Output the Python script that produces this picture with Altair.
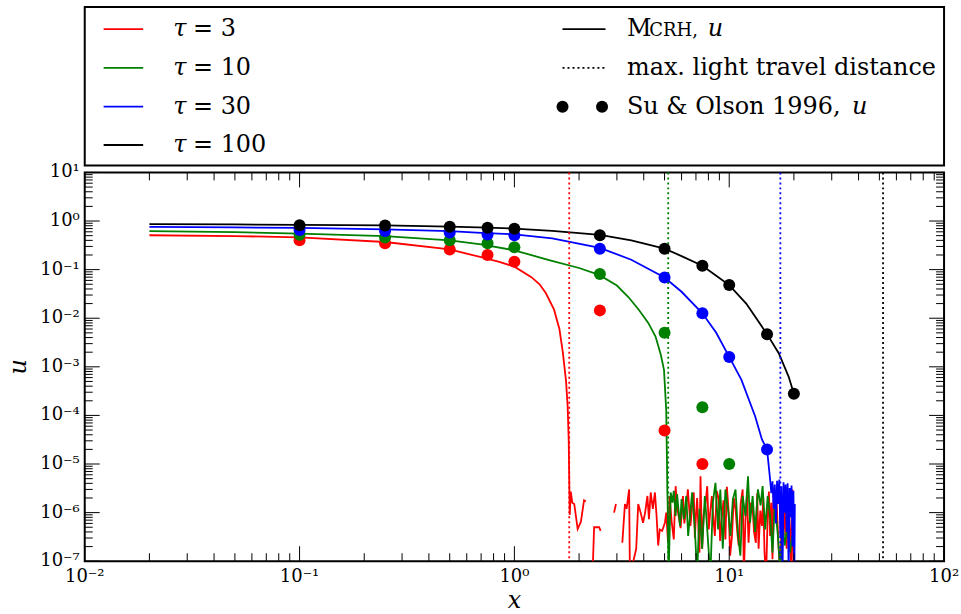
import json
import altair as alt
import pandas as pd

# ---------------- data ----------------
TAU_NAMES = ["3", "10", "30", "100"]
TAU_COLORS = ["#ff0000", "#008000", "#0000ff", "#000000"]

# MCRH simulation, tau = 3 (split where the curve has gaps)
red_x_1 = [0.02, 0.05, 0.1, 0.25, 0.5, 0.7, 0.85, 1.0, 1.2, 1.31, 1.4, 1.53, 1.62, 1.68, 1.74, 1.77,
           1.79, 1.80, 1.81, 1.83, 1.86, 1.90, 1.97, 2.04, 2.11, 2.15]
red_u_1 = [0.51, 0.49, 0.46, 0.37, 0.26, 0.18, 0.145, 0.115, 0.07, 0.05, 0.033, 0.015, 6e-3, 2e-3, 5e-4, 1.5e-4,
           3e-5, 5e-6, 9e-7, 2.7e-6, 1.6e-6, 1.5e-6, 4.6e-7, 6.5e-7, 1.8e-6, 1.7e-6]
red_x_2 = [2.31, 2.35, 2.48, 2.52]
red_u_2 = [5e-8, 5e-7, 5e-7, 4.2e-7]
red_x_3 = [2.91, 2.97]
red_u_3 = [1.0e-6, 1.5e-6]
red_x_4 = [3.18, 3.27, 3.33, 3.42, 3.45, 3.69, 3.77, 3.87, 3.97, 4.06, 4.16, 4.23, 4.31, 4.41, 4.51,
           4.59, 4.67, 4.75, 4.87, 5.02, 5.09, 5.19, 5.28, 5.39, 5.52, 5.63, 5.72, 5.94, 6.09,
           6.18, 6.27, 6.42, 6.60, 6.72, 6.84, 6.92, 7.0, 7.09, 7.17, 7.27, 7.35, 7.48, 7.6, 7.76,
           7.9, 8.03, 8.17, 8.30, 8.45, 8.57, 8.75, 8.94, 9.07, 9.2, 9.4, 9.6, 9.75, 9.95, 10.1,
           10.3, 10.5, 10.7, 10.9, 11.07, 11.3, 11.55, 11.7, 11.9, 12.1, 12.3, 12.6, 12.85, 13.05, 13.3,
           13.5, 13.7, 13.95, 14.2, 14.4, 14.6, 14.85, 15.1, 15.3, 15.5, 15.7, 15.9, 16.1, 16.3, 16.6,
           16.96, 17.3, 17.6, 17.9, 18.2, 18.5, 18.85, 19.2, 19.45, 19.7, 20.0]
red_u_4 = [2.4e-7, 1.5e-6, 1.2e-6, 3e-6, 5e-8, 1.8e-7, 1.5e-6, 1.0e-6, 6.2e-7, 1.0e-6, 2.2e-6, 7.3e-7, 2.6e-6, 1.2e-6, 2.6e-6,
           8.5e-7, 2.1e-7, 4.5e-7, 4.2e-7, 6.2e-7, 1.0e-6, 2.4e-7, 2.2e-6, 6.8e-7, 2.8e-7, 3.5e-6, 1.3e-6, 4.8e-7, 2.2e-6,
           6e-7, 1.0e-6, 3.0e-6, 5.3e-7, 1.4e-6, 2.6e-6, 3e-7, 8.5e-7, 2.0e-6, 6.2e-7, 1.5e-7, 5.6e-6, 1.8e-7, 9e-7, 1.6e-6,
           3.5e-6, 4.5e-7, 1.1e-6, 2.2e-6, 7e-7, 3.3e-7, 2.8e-6, 1.9e-6, 2.6e-7, 6.2e-7, 1.8e-6, 2.8e-7, 3.4e-6, 1.0e-6, 1.3e-7,
           3.3e-7, 2.0e-6, 1.2e-6, 4e-7, 2.1e-7, 1.5e-6, 3.0e-6, 5e-8, 7.3e-7, 2.3e-6, 2.4e-7, 1.6e-6, 1.2e-6, 4e-7, 2.4e-7,
           2.5e-6, 1.8e-7, 1.1e-6, 5.3e-7, 2.0e-6, 1.5e-7, 5e-8, 8.5e-7, 2.7e-6, 3.3e-7, 1.6e-6, 1.1e-7, 3.2e-6, 7.3e-7, 1.9e-6,
           2.1e-7, 5e-8, 2.4e-6, 3.3e-7, 1.2e-6, 1.8e-7, 2.0e-6, 4.5e-7, 5e-8, 3.0e-6, 5e-8]

# tau = 10
green_x = [0.02, 0.05, 0.1, 0.25, 0.5, 0.7, 1.0, 1.45, 2.0, 2.48, 3.0, 3.4, 3.8, 4.2, 4.54,
           4.8, 4.97, 5.09, 5.13, 5.15, 5.17, 5.22, 5.34, 5.44, 5.52, 5.63, 5.72, 5.9, 6.0, 6.15,
           6.31, 6.44, 6.72, 6.92, 7.09, 7.27, 7.48, 7.70, 7.88, 8.17, 8.39, 8.63, 8.88, 9.09, 9.33,
           9.60, 9.87, 10.13, 10.4, 10.7, 11.0, 11.27, 11.55, 11.9, 12.23, 12.5, 12.85, 13.2, 13.6, 14.0,
           14.3, 14.7, 15.1, 15.5, 15.9, 16.3, 16.85, 17.3, 17.7, 18.1, 18.7, 19.2, 19.6]
green_u = [0.62, 0.59, 0.55, 0.49, 0.40, 0.33, 0.25, 0.157, 0.108, 0.078, 0.047, 0.027, 0.0148, 8e-3, 4.2e-3,
           1.8e-3, 8.7e-4, 1.3e-4, 1.2e-5, 3e-6, 1.5e-6, 5e-8, 2.6e-6, 1.6e-6, 2.8e-6, 8.5e-7, 2.4e-6, 5.3e-7, 1.9e-6, 7.3e-7,
           2.2e-6, 3.3e-7, 2.6e-6, 4.5e-7, 5e-8, 1.2e-6, 1.8e-7, 2.2e-6, 5.3e-7, 5e-8, 1.6e-6, 4.1e-6, 4.5e-7, 3.0e-6, 1.8e-7,
           3.0e-6, 1.2e-6, 3.3e-7, 1.9e-6, 3.0e-6, 3.3e-7, 1.3e-7, 2.2e-6, 8.5e-7, 5.6e-6, 6.2e-7, 2.2e-6, 4e-7, 3.0e-6, 1.4e-6,
           3.5e-6, 4.5e-7, 2.2e-6, 8.5e-7, 1.5e-7, 1.6e-6, 3.3e-7, 5e-8, 7.3e-7, 2.1e-7, 5.3e-7, 1.5e-7, 3.3e-7]

# tau = 30
blue_x = [0.02, 0.05, 0.1, 0.25, 0.5, 0.7, 1.0, 1.5, 2.5, 3.5, 5.0, 6.0, 7.5, 8.7, 10.0,
          11.4, 12.3, 13.2, 14.2, 15.0, 15.5, 15.7, 15.9, 16.1, 16.3, 16.5, 16.7, 16.9, 17.1, 17.3,
          17.5, 17.7, 17.9, 18.1, 18.3, 18.5, 18.7, 18.9, 19.1, 19.3, 19.5, 19.7, 19.9, 20.1, 20.2]
blue_u = [0.76, 0.74, 0.72, 0.67, 0.62, 0.57, 0.53, 0.44, 0.28, 0.16, 0.069, 0.035, 0.0126, 5e-3, 1.6e-3,
          5.4e-4, 2.2e-4, 9.6e-5, 3.2e-5, 2.0e-5, 4.8e-6, 2.5e-6, 4.4e-6, 1.2e-6, 3.8e-6, 6e-7, 4.5e-6, 1.5e-6, 4.8e-6, 3e-7,
          3.5e-6, 5e-8, 4.2e-6, 1.0e-6, 3.8e-6, 4e-7, 4.0e-6, 5e-8, 3.2e-6, 8e-7, 3.6e-6, 2e-7, 2.8e-6, 5e-8, 1.5e-6]

# tau = 100
black_x = [0.02, 0.05, 0.1, 0.25, 0.5, 0.75, 1.0, 1.5, 2.5, 3.5, 5.0, 6.0, 7.5, 8.7, 10.0, 12.0, 15.0, 17.0, 18.9, 20.0]
black_u = [0.86, 0.85, 0.83, 0.81, 0.77, 0.73, 0.70, 0.63, 0.52, 0.40, 0.27, 0.19, 0.12, 0.075, 0.048, 0.02,
           4.7e-3, 1.9e-3, 6.3e-4, 2.8e-4]

# Su & Olson 1996 benchmark points
so_x = [0.1, 0.25, 0.5, 0.75, 1.0, 2.5, 5.0, 7.5, 10.0, 15.0, 20.0]
so_u_3 = [0.40, 0.35, 0.26, 0.20, 0.145, 0.0145, 4.9e-5, 1.0e-5]
so_u_10 = [0.52, 0.46, 0.40, 0.35, 0.29, 0.081, 5.0e-3, 1.47e-4, 1.0e-5]
so_u_30 = [0.65, 0.62, 0.58, 0.53, 0.51, 0.27, 0.069, 0.0126, 1.6e-3, 2.0e-5]
so_u_100 = [0.82, 0.81, 0.76, 0.73, 0.69, 0.51, 0.27, 0.12, 0.048, 4.7e-3, 2.8e-4]

# maximum light travel distance
light_x = [1.8, 5.2, 17.3, 52.0]

# axis ticks
x_tick_vals = [1e-2, 1e-1, 1e0, 1e1, 1e2]
x_tick_labels = ["10⁻²", "10⁻¹", "10⁰", "10¹", "10²"]
y_tick_vals = [1e-7, 1e-6, 1e-5, 1e-4, 1e-3, 1e-2, 1e-1, 1e0, 1e1]
y_tick_labels = ["10⁻⁷", "10⁻⁶", "10⁻⁵", "10⁻⁴", "10⁻³", "10⁻²", "10⁻¹", "10⁰", "10¹"]
x_title, y_title = "x", "u"

legend_left = ["= 3", "= 10", "= 30", "= 100"]

# ---------------- building ----------------
FONT = "DejaVu Serif"
W, H = 862, 390
LW = 1.8
MAJ, MIN = 15, 8

x_minor = [m * 10.0 ** d for d in range(-2, 2) for m in range(2, 10)]
y_minor = [m * 10.0 ** d for d in range(-7, 1) for m in range(2, 10)]

xscale = alt.Scale(type="log", domain=[1e-2, 1e2], nice=False)
yscale = alt.Scale(type="log", domain=[1e-7, 1e1], nice=False)
cscale = alt.Scale(domain=TAU_NAMES, range=TAU_COLORS)


def seg_frame(xs, us, seg):
    return pd.DataFrame({"x": xs, "u": us, "seg": seg, "i": list(range(len(xs)))})


red_df = pd.concat([seg_frame(red_x_1, red_u_1, "a"), seg_frame(red_x_2, red_u_2, "b"),
                    seg_frame(red_x_3, red_u_3, "c"), seg_frame(red_x_4, red_u_4, "d")])
series = [(red_df, TAU_COLORS[0]),
          (seg_frame(green_x, green_u, "a"), TAU_COLORS[1]),
          (seg_frame(blue_x, blue_u, "a"), TAU_COLORS[2]),
          (seg_frame(black_x, black_u, "a"), TAU_COLORS[3])]

line_layers = [
    alt.Chart(df).mark_line(color=col, strokeWidth=LW, clip=True).encode(
        x=alt.X("x:Q", scale=xscale, axis=None),
        y=alt.Y("u:Q", scale=yscale, axis=None),
        detail="seg:N",
        order="i:Q",
    )
    for df, col in series
]

light_df = pd.DataFrame({"x": light_x, "tau": TAU_NAMES})
rules = alt.Chart(light_df).mark_rule(strokeDash=[2, 3], strokeWidth=LW).encode(
    x=alt.X("x:Q", scale=xscale, axis=None),
    color=alt.Color("tau:N", scale=cscale, legend=None),
)

so_rows = []
for name, us in zip(TAU_NAMES, [so_u_3, so_u_10, so_u_30, so_u_100]):
    for xv, uv in zip(so_x, us):
        so_rows.append({"x": xv, "u": uv, "tau": name})
so_df = pd.DataFrame(so_rows)
points = alt.Chart(so_df).mark_circle(size=145, opacity=1).encode(
    x=alt.X("x:Q", scale=xscale, axis=None),
    y=alt.Y("u:Q", scale=yscale, axis=None),
    color=alt.Color("tau:N", scale=cscale, legend=None),
)

# helper layer (as in the render where the inward ticks appeared); its labels are transparent
anchor = pd.DataFrame({"x": [1.0], "u": [1.0]})
xlab = json.dumps(x_tick_labels, ensure_ascii=False)
ylab = json.dumps(y_tick_labels, ensure_ascii=False)
x_axis = alt.Axis(orient="bottom", values=x_tick_vals, ticks=False, domain=False, grid=False,
                  labelExpr=f"{xlab}[round(log(datum.value)/LN10)+2]", labelFontSize=18,
                  labelColor="transparent", labelFont=FONT, labelPadding=4, title="x", titleFont=FONT,
                  titleFontSize=24, titleFontStyle="italic", titleFontWeight="normal",
                  titleColor="transparent", titlePadding=3)
y_axis = alt.Axis(orient="left", values=y_tick_vals, ticks=False, domain=False, grid=False,
                  labelExpr=f"{ylab}[round(log(datum.value)/LN10)+7]", labelFontSize=18,
                  labelColor="transparent", labelFont=FONT, labelPadding=6, title="u", titleFont=FONT,
                  titleFontSize=24, titleFontStyle="italic", titleFontWeight="normal",
                  titleColor="transparent", titlePadding=8)
axis_layer = alt.Chart(anchor).mark_point(opacity=0).encode(
    x=alt.X("x:Q", scale=xscale, axis=x_axis),
    y=alt.Y("u:Q", scale=yscale, axis=y_axis),
)

# inward-pointing ticks on all four sides
xt_maj = pd.DataFrame({"v": x_tick_vals})
xt_min = pd.DataFrame({"v": x_minor})
yt_maj = pd.DataFrame({"v": y_tick_vals})
yt_min = pd.DataFrame({"v": y_minor})


def xticks(df, length):
    base = alt.Chart(df).mark_rule(color="black", strokeWidth=1)
    xe = alt.X("v:Q", scale=xscale, axis=None)
    return [base.encode(x=xe, y=alt.value(H), y2=alt.value(H - length)),
            base.encode(x=xe, y=alt.value(0), y2=alt.value(length))]


def yticks(df, length):
    base = alt.Chart(df).mark_rule(color="black", strokeWidth=1)
    ye = alt.Y("v:Q", scale=yscale, axis=None)
    return [base.encode(y=ye, x=alt.value(0), x2=alt.value(length)),
            base.encode(y=ye, x=alt.value(W), x2=alt.value(W - length))]


tick_layers = xticks(xt_maj, MAJ) + xticks(xt_min, MIN) + yticks(yt_maj, MAJ) + yticks(yt_min, MIN)

# tick labels and axis titles as text
xl_df = pd.DataFrame({"v": x_tick_vals, "t": x_tick_labels})
yl_df = pd.DataFrame({"v": y_tick_vals, "t": y_tick_labels})
x_labels = alt.Chart(xl_df).mark_text(font=FONT, fontSize=18, color="black", align="center",
                                      baseline="middle").encode(
    x=alt.X("v:Q", scale=xscale, axis=None), y=alt.value(H + 16), text="t:N")
y_labels = alt.Chart(yl_df).mark_text(font=FONT, fontSize=18, color="black", align="right",
                                      baseline="middle").encode(
    x=alt.value(-5), y=alt.Y("v:Q", scale=yscale, axis=None), text="t:N")
x_title_mark = alt.Chart(pd.DataFrame({"t": [x_title]})).mark_text(
    font=FONT, fontSize=24, fontStyle="italic", color="black", align="center", baseline="middle").encode(
    x=alt.value(W / 2), y=alt.value(H + 40), text="t:N")
y_title_mark = alt.Chart(pd.DataFrame({"t": [y_title]})).mark_text(
    font=FONT, fontSize=24, fontStyle="italic", color="black", align="center", baseline="middle",
    angle=270).encode(x=alt.value(-66), y=alt.value(H / 2), text="t:N")

plot = alt.layer(*line_layers, rules, points, axis_layer, *tick_layers, x_labels, y_labels,
                 x_title_mark, y_title_mark).properties(width=W, height=H)

# ---------------- legend panel ----------------
LH = 159
lx = alt.Scale(domain=[0, 1])
ly = alt.Scale(domain=[0, 1], reverse=True)
row_y = [0.14, 0.384, 0.629, 0.871]

samples = pd.DataFrame({
    "x": [0.022] * 4 + [0.556],
    "x2": [0.068] * 4 + [0.606],
    "y": row_y + [row_y[0]],
    "c": TAU_COLORS + ["#000000"],
})
sample_rules = alt.Chart(samples).mark_rule(strokeWidth=LW).encode(
    x=alt.X("x:Q", scale=lx, axis=None), x2="x2:Q",
    y=alt.Y("y:Q", scale=ly, axis=None), color=alt.Color("c:N", scale=None))
dotted_sample = alt.Chart(pd.DataFrame({"x": [0.556], "x2": [0.606], "y": [row_y[1]]})).mark_rule(
    strokeWidth=LW, strokeDash=[2, 3], color="black").encode(
    x=alt.X("x:Q", scale=lx, axis=None), x2="x2:Q", y=alt.Y("y:Q", scale=ly, axis=None))
dot_sample = alt.Chart(pd.DataFrame({"x": [0.556, 0.602], "y": [row_y[2]] * 2})).mark_circle(
    size=145, opacity=1, color="black").encode(
    x=alt.X("x:Q", scale=lx, axis=None), y=alt.Y("y:Q", scale=ly, axis=None))


def text_layer(df, **kw):
    base = dict(align="left", baseline="middle", font=FONT, fontSize=24, color="black")
    base.update(kw)
    return alt.Chart(df).mark_text(**base).encode(
        x=alt.X("x:Q", scale=lx, axis=None), y=alt.Y("y:Q", scale=ly, axis=None), text="t:N")


tau_sym = text_layer(pd.DataFrame({"x": [0.103] * 4, "y": row_y, "t": ["τ"] * 4}), fontStyle="italic")
tau_val = text_layer(pd.DataFrame({"x": [0.126] * 4, "y": row_y, "t": legend_left}))
m_big = text_layer(pd.DataFrame({"x": [0.631], "y": [row_y[0]], "t": ["M"]}))
m_small = text_layer(pd.DataFrame({"x": [0.657], "y": [row_y[0] + 0.012], "t": ["CRH,"]}), fontSize=18)
right_txt = text_layer(pd.DataFrame({"x": [0.631, 0.631], "y": [row_y[1], row_y[2]],
                                     "t": ["max. light travel distance", "Su & Olson 1996,"]}))
u_ital = text_layer(pd.DataFrame({"x": [0.725, 0.893], "y": [row_y[0], row_y[2]], "t": ["u", "u"]}),
                    fontStyle="italic")

legend_panel = alt.layer(sample_rules, dotted_sample, dot_sample, tau_sym, tau_val, m_big, m_small,
                         right_txt, u_ital).properties(width=W, height=LH)

chart = alt.vconcat(legend_panel, plot, spacing=7, bounds="flush").configure_view(
    stroke="black", strokeWidth=2).properties(
    padding={"left": 6, "top": 5, "right": 0, "bottom": 2}, background="white")

chart.save("out.html", embed_options={"renderer": "svg", "actions": False})
